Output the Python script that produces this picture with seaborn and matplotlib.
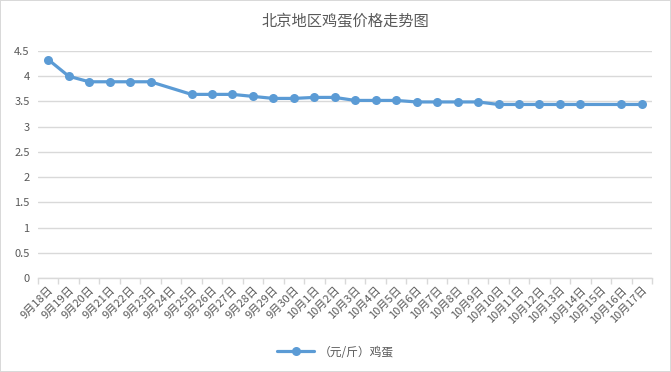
import numpy as np
import pandas as pd
import matplotlib
matplotlib.use('Agg')
import matplotlib.pyplot as plt
import seaborn as sns

# data
dates = ['9月18日', '9月19日', '9月20日', '9月21日', '9月22日', '9月23日', '9月24日',
         '9月25日', '9月26日', '9月27日', '9月28日', '9月29日', '9月30日',
         '10月1日', '10月2日', '10月3日', '10月4日', '10月5日', '10月6日', '10月7日',
         '10月8日', '10月9日', '10月10日', '10月11日', '10月12日', '10月13日',
         '10月14日', '10月15日', '10月16日', '10月17日']
price = [4.33, 4.0, 3.89, 3.89, 3.89, 3.89, np.nan,
         3.64, 3.64, 3.64, 3.6, 3.56, 3.56,
         3.58, 3.58, 3.52, 3.52, 3.52, 3.49, 3.49,
         3.49, 3.49, 3.44, 3.44, 3.44, 3.44,
         3.44, np.nan, 3.44, 3.44]
y_ticks = [0, 0.5, 1, 1.5, 2, 2.5, 3, 3.5, 4, 4.5]
y_tick_labels = ['0', '0.5', '1', '1.5', '2', '2.5', '3', '3.5', '4', '4.5']

df = pd.DataFrame({'pos': np.arange(len(dates)), 'date': dates, 'price': price})
df_valid = df.dropna()  # gaps are bridged, like the original chart

sns.set_style('white')
plt.rcParams['font.family'] = ['Noto Sans CJK SC', 'DejaVu Sans']

line_color = '#5b9bd5'
text_color = '#595959'
grid_color = '#d9d9d9'

fig = plt.figure(figsize=(6.71, 3.72), dpi=100, edgecolor=grid_color, linewidth=1.2)
ax = fig.add_axes([38/671, 1 - 278/372, (652 - 38)/671, (278 - 51)/372])

sns.lineplot(data=df_valid, x='pos', y='price',
             color=line_color, linewidth=2.3,
             marker='o', markersize=6.5, markeredgewidth=0,
             label='（元/斤）鸡蛋', ax=ax)

ax.set_xlim(-0.5, len(dates) - 0.5)
ax.set_ylim(0, 4.5)
ax.set_yticks(y_ticks)
ax.set_yticklabels(y_tick_labels)
ax.set_xticks(df['pos'])
ax.set_xticklabels(dates, rotation=45, ha='right', rotation_mode='anchor')
ax.set_xticks(np.arange(len(dates) + 1) - 0.5, minor=True)
ax.tick_params(axis='x', which='major', length=0, labelsize=8, labelcolor=text_color, pad=5)
ax.tick_params(axis='x', which='minor', length=4, color=grid_color, width=1, direction='out', bottom=True)
ax.tick_params(axis='y', length=0, labelsize=8, labelcolor=text_color, pad=6)
ax.yaxis.grid(True, color=grid_color, linewidth=1)
ax.set_axisbelow(True)
ax.set_xlabel('')
ax.set_ylabel('')
for s in ['top', 'right', 'left']:
    ax.spines[s].set_visible(False)
ax.spines['bottom'].set_color(grid_color)
ax.spines['bottom'].set_linewidth(1)

ax.set_title('北京地区鸡蛋价格走势图', fontsize=11, color=text_color, pad=18)

ax.legend(loc='center', bbox_to_anchor=(0.5, 1 - 352/372), bbox_transform=fig.transFigure,
          frameon=False, fontsize=8.5, labelcolor=text_color, handlelength=3.2, handletextpad=0.4)

fig.savefig('out.png', dpi=100)
